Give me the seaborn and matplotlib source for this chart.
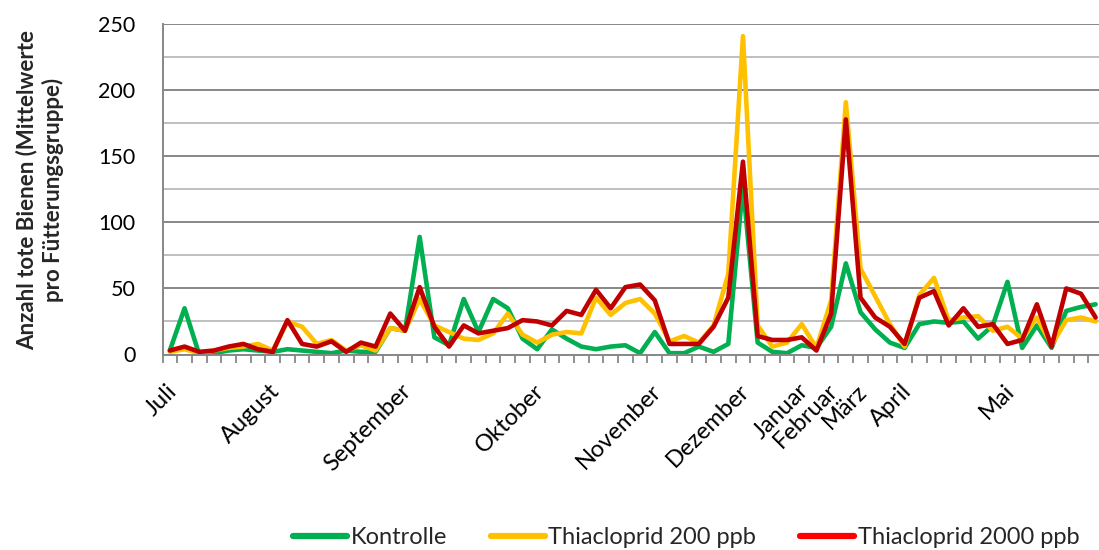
import numpy as np
import pandas as pd
import matplotlib
matplotlib.use("Agg")
import matplotlib.pyplot as plt
import matplotlib.transforms as mtransforms
from matplotlib.lines import Line2D
import seaborn as sns

# Mean number of dead bees per feeding group, one value per sampling date
kontrolle = [3, 35, 0, 1, 3, 4, 3, 2, 4, 3, 2, 1, 3, 2, 2, 20,
             18, 89, 13, 7, 42, 17, 42, 35, 12, 4, 19, 12, 6, 4, 6, 7,
             1, 17, 1, 1, 6, 2, 8, 128, 9, 2, 1, 7, 5, 21, 69, 32,
             19, 9, 5, 23, 25, 24, 25, 12, 22, 55, 5, 22, 5, 33, 36, 38]
thia_200 = [2, 4, 1, 3, 5, 6, 8, 3, 25, 21, 8, 11, 3, 7, 3, 20,
            18, 42, 22, 17, 12, 11, 16, 31, 15, 9, 15, 17, 16, 43, 30, 39,
            42, 31, 10, 14, 9, 22, 61, 241, 22, 6, 9, 23, 5, 41, 191, 65,
            44, 23, 6, 45, 58, 26, 28, 29, 18, 21, 12, 28, 7, 26, 28, 25]
thia_2000 = [3, 6, 2, 3, 6, 8, 4, 2, 26, 8, 6, 10, 2, 9, 6, 31,
             18, 51, 21, 6, 22, 16, 18, 20, 26, 25, 22, 33, 30, 49, 35, 51,
             53, 41, 8, 8, 8, 21, 43, 146, 14, 11, 11, 13, 3, 31, 178, 43,
             28, 21, 8, 43, 48, 22, 35, 21, 23, 8, 11, 38, 6, 50, 46, 28]

# Month names shown under the first sampling date of each month
month_labels = ["Juli", "August", "September", "Oktober", "November", "Dezember",
                "Januar", "Februar", "März", "April", "Mai"]
month_positions = [0, 7, 16, 25, 33, 39, 43, 45, 47, 50, 57]

groups = ["Kontrolle", "Thiacloprid 200 ppb", "Thiacloprid 2000 ppb"]
line_colors = ["#00B050", "#FFC000", "#C00000"]
legend_colors = ["#00B050", "#FFC000", "#FF0000"]

n = len(kontrolle)
df = pd.DataFrame({
    "termin": np.tile(np.arange(n), 3),
    "tote": kontrolle + thia_200 + thia_2000,
    "gruppe": np.repeat(groups, n),
})

sns.set_theme(style="white")
plt.rcParams["font.family"] = ["Lato", "DejaVu Sans"]

W, H = 1099, 550
fig = plt.figure(figsize=(W / 100, H / 100), dpi=100)
x0, x1, y_top, y_bot = 162.5, 1103.0, 24.3, 354.5
ax = fig.add_axes([x0 / W, (H - y_bot) / H, (x1 - x0) / W, (y_bot - y_top) / H])

sns.lineplot(data=df, x="termin", y="tote", hue="gruppe", hue_order=groups,
             palette=dict(zip(groups, line_colors)), linewidth=3.3,
             errorbar=None, legend=False, ax=ax,
             solid_joinstyle="round", solid_capstyle="round")

grid_dark = "#878787"
grid_light = "#bfbfbf"

ax.set_xlim(-0.5, n - 0.5)
ax.set_ylim(0, 250)
ax.set_xlabel("")
ax.set_ylabel("")

# y axis: majors every 50, minor gridlines every 25
ax.set_yticks(np.arange(0, 251, 50))
ax.set_yticks(np.arange(25, 250, 50), minor=True)
ax.yaxis.grid(True, which="major", color=grid_dark, linewidth=1.4)
ax.yaxis.grid(True, which="minor", color=grid_light, linewidth=1.4)
ax.xaxis.grid(False)
ax.set_axisbelow(True)
ax.tick_params(axis="y", which="major", direction="inout", length=11, width=1.3,
               color=grid_dark, labelsize=15.5, labelcolor="black", pad=14)
ax.tick_params(axis="y", which="minor", length=0)

# x axis: tick marks between sampling dates, month names below
ax.set_xticks(np.arange(-0.5, n, 1.0))
ax.set_xticklabels([])
ax.set_xticks(month_positions, minor=True)
ax.set_xticklabels(month_labels, minor=True)
ax.tick_params(axis="x", which="major", direction="out", length=5.5, width=1.3,
               color=grid_dark, bottom=True)
ax.tick_params(axis="x", which="minor", length=0, labelsize=17, pad=18.5,
               labelcolor="black")
shift = mtransforms.ScaledTranslation(-3 / 72, 0, fig.dpi_scale_trans)
for lbl in ax.get_xticklabels(minor=True):
    lbl.set_rotation(45)
    lbl.set_rotation_mode("anchor")
    lbl.set_ha("right")
    lbl.set_va("top")
    lbl.set_transform(lbl.get_transform() + shift)

for side in ("top", "right"):
    ax.spines[side].set_visible(False)
for side in ("left", "bottom"):
    ax.spines[side].set_color(grid_dark)
    ax.spines[side].set_linewidth(1.4)

fig.text(40 / W, (H - 190) / H,
         "Anzahl tote Bienen (Mittelwerte\npro Fütterungsgruppe)",
         rotation=90, ha="center", va="center", multialignment="center",
         fontsize=16, fontweight="bold", linespacing=1.25)

handles = [Line2D([], [], color=c, linewidth=4.5, solid_capstyle="round")
           for c in legend_colors]
fig.legend(handles, groups, loc="center", bbox_to_anchor=(686 / W, 12 / H),
           ncol=3, frameon=False, fontsize=17, handlelength=2.3,
           handletextpad=0.15, columnspacing=1.85)

fig.savefig("out.png", dpi=100)
